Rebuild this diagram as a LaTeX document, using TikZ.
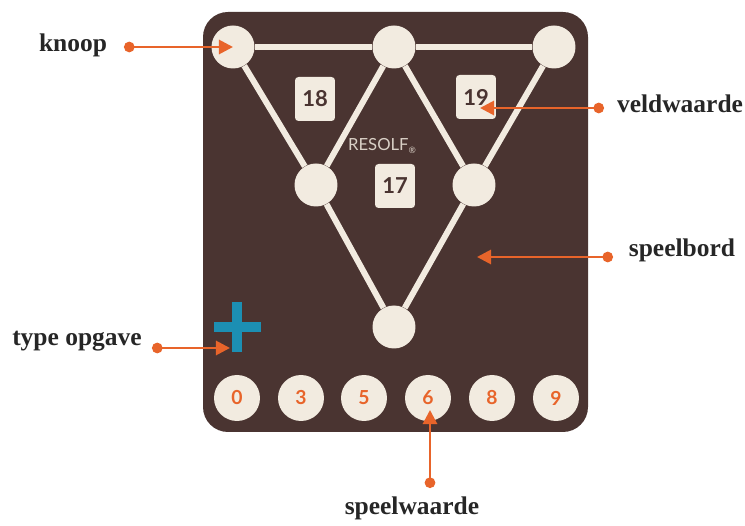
\documentclass[tikz,border=0pt]{standalone}
\usepackage{fontspec}
\setmainfont{Liberation Serif}
\setsansfont{Lato}
\usetikzlibrary{arrows.meta}
\definecolor{bord}{HTML}{4A3431}
\definecolor{creme}{HTML}{F2EBE0}
\definecolor{oranje}{HTML}{E8642A}
\definecolor{blauw}{HTML}{1C8FB3}
\definecolor{logo}{HTML}{D9D0C6}
\tikzset{
  knoop/.style={circle, fill=creme, minimum size=0.86cm, inner sep=0pt},
  veld/.style={fill=creme, rounded corners=2pt, minimum width=0.8cm, minimum height=0.88cm,
    inner sep=0pt, text=bord, font=\sffamily\bfseries\fontsize{12.5}{14}\selectfont},
  waarde/.style={circle, fill=creme, minimum width=0.88cm, minimum height=0.92cm, inner sep=0pt,
    text=oranje, font=\sffamily\bfseries\fontsize{11}{13}\selectfont},
  lijn/.style={creme, line width=0.12cm},
  label/.style={font=\bfseries\fontsize{14.5}{17}\selectfont, text=black!85},
  wijzer/.style={oranje, line width=1.6pt, {Circle[length=6pt]}-{Triangle[length=8pt,width=8pt]}}
}
\begin{document}
\begin{tikzpicture}[x=0.02cm, y=-0.02cm]
\useasboundingbox (0,0) rectangle (745,526);
\path[fill=bord, rounded corners=0.5cm] (203,12) rectangle (588,432);

\node[knoop] (1) at (233,47) {};
\node[knoop] (2) at (394,47) {};
\node[knoop] (3) at (554,47) {};
\node[knoop] (4) at (316,185) {};
\node[knoop] (5) at (474,185) {};
\node[knoop] (6) at (394,327) {};
\path[draw,lijn] (1) -- (2);
\path[draw,lijn] (2) -- (3);
\path[draw,lijn] (1) -- (4);
\path[draw,lijn] (2) -- (4);
\path[draw,lijn] (2) -- (5);
\path[draw,lijn] (3) -- (5);
\path[draw,lijn] (4) -- (6);
\path[draw,lijn] (5) -- (6);

\node[veld] (v18) at (315,99) {18};
\node[veld] (v19) at (476,97) {19};
\node[veld] (v17) at (395,186) {17};
\node[text=logo, font=\sffamily\fontsize{9.5}{11}\selectfont, inner sep=0pt] (resolf) at (382,146) {RESOLF\raisebox{-0.3ex}{\tiny\textregistered}};

\path[draw, blauw, line width=0.2cm] (237,302) -- (237,352);
\path[draw, blauw, line width=0.2cm] (214,327) -- (261,327);

\node[waarde] (w0) at (237,398) {0};
\node[waarde] (w3) at (301,398) {3};
\node[waarde] (w5) at (364,398) {5};
\node[waarde] (w6) at (428,398) {6};
\node[waarde] (w8) at (492,398) {8};
\node[waarde] (w9) at (556,398) {9};

\node[label] (knooptekst) at (73,45) {knoop};
\node[label] (veldtekst) at (680,104) {veldwaarde};
\node[label] (bordtekst) at (682,250) {speelbord};
\node[label] (typetekst) at (77,341) {type opgave};
\node[label] (speeltekst) at (412,508) {speelwaarde};

\coordinate (a1) at (124,47);
\coordinate (a2) at (604,108);
\coordinate (a3) at (613,257);
\coordinate (a4) at (152,348);
\coordinate (a5) at (430,488);
\coordinate (plus) at (230,348);
\coordinate (veld) at (480,108);
\coordinate (speelbord) at (477,257);
\coordinate (zes) at (430,410);
\path[draw,wijzer] (a1) -- (1.center);
\path[draw,wijzer] (a2) -- (veld);
\path[draw,wijzer] (a3) -- (speelbord);
\path[draw,wijzer] (a4) -- (plus);
\path[draw,wijzer] (a5) -- (zes);
\end{tikzpicture}
\end{document}
